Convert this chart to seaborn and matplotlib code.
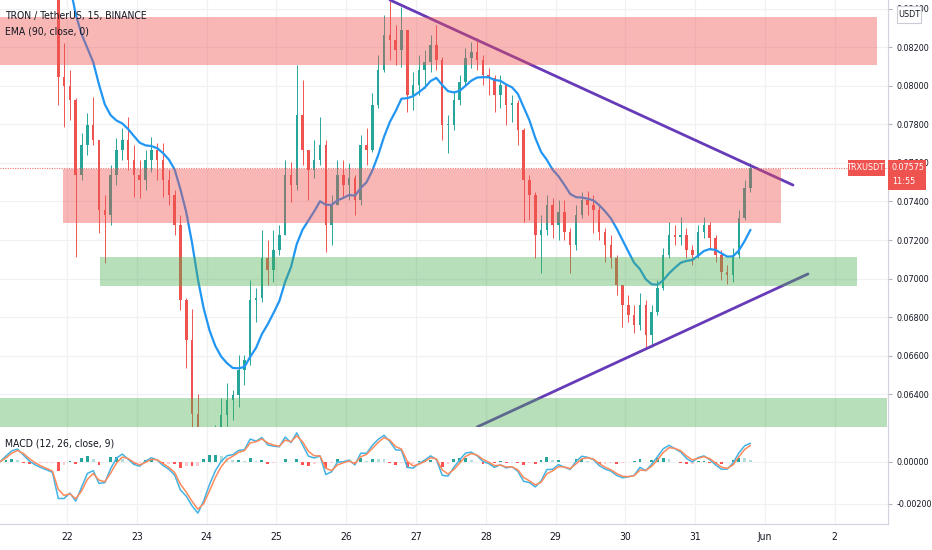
import numpy as np
import pandas as pd
import seaborn as sns
import matplotlib
matplotlib.use("Agg")
import matplotlib.pyplot as plt
from matplotlib.patches import Rectangle

# TRX/USDT, 2-hour candles, x = day of May (21 May 00:00 = 21.0)
first_open = 0.0872
closes = [0.0880, 0.0893, 0.0905, 0.0912, 0.0904, 0.0897, 0.0892, 0.0886, 0.0879, 0.0870,
          0.08046, 0.07999, 0.07926, 0.07537, 0.07693, 0.07797, 0.07719, 0.07356, 0.07330, 0.07537,
          0.07667, 0.07719, 0.07615, 0.07537, 0.07511, 0.07615, 0.07667, 0.07615, 0.07511, 0.07434,
          0.07278, 0.06889, 0.06681, 0.0630, 0.0595, 0.0600, 0.0610, 0.0620, 0.06292, 0.06370,
          0.06396, 0.06526, 0.06578, 0.06889, 0.06899, 0.07107, 0.07045, 0.07148, 0.07226, 0.07537,
          0.07485, 0.07848, 0.07667, 0.07563, 0.07615, 0.07693, 0.07278, 0.07382, 0.07537, 0.07485,
          0.07522, 0.07408, 0.07693, 0.07667, 0.07900, 0.08082, 0.08263, 0.08238, 0.08186, 0.08289,
          0.07952, 0.08004, 0.08082, 0.08123, 0.08212, 0.08134, 0.07797, 0.07797, 0.07926, 0.08020,
          0.08144, 0.08175, 0.08134, 0.08056, 0.08040, 0.07952, 0.08004, 0.07900, 0.07911, 0.07771,
          0.07511, 0.07434, 0.07226, 0.07252, 0.07382, 0.07278, 0.07345, 0.07242, 0.07174, 0.07330,
          0.07408, 0.07382, 0.07356, 0.07242, 0.07174, 0.07107, 0.06967, 0.06863, 0.06811, 0.06759,
          0.06863, 0.06707, 0.06827, 0.06951, 0.07122, 0.07226, 0.07216, 0.07226, 0.07148, 0.07122,
          0.07242, 0.07278, 0.07210, 0.07122, 0.07034, 0.07019, 0.07122, 0.07314, 0.07470, 0.07575]
highs = [0.0885, 0.0897, 0.0910, 0.0918, 0.0916, 0.0908, 0.0900, 0.0895, 0.0890, 0.0882,
         0.0873, 0.08222, 0.08082, 0.07935, 0.07755, 0.07859, 0.07942, 0.07719, 0.07434, 0.07589,
         0.07729, 0.07781, 0.07838, 0.07693, 0.07615, 0.07667, 0.07734, 0.07703, 0.07703, 0.07563,
         0.07460, 0.07330, 0.0690, 0.0684, 0.0640, 0.0612, 0.0615, 0.0624, 0.06381, 0.06458,
         0.06422, 0.06604, 0.06604, 0.06993, 0.06951, 0.07252, 0.07200, 0.07252, 0.07278, 0.07615,
         0.07605, 0.08108, 0.08030, 0.07667, 0.07719, 0.07838, 0.07719, 0.07434, 0.07615, 0.07615,
         0.07600, 0.07537, 0.07745, 0.07781, 0.07963, 0.08160, 0.08367, 0.08440, 0.08315, 0.08409,
         0.08289, 0.08072, 0.08160, 0.08186, 0.08263, 0.08315, 0.0815, 0.07848, 0.07968, 0.08056,
         0.08196, 0.08227, 0.08248, 0.08160, 0.08092, 0.08056, 0.08056, 0.08004, 0.07952, 0.07926,
         0.07781, 0.07537, 0.0745, 0.07330, 0.07434, 0.07418, 0.07408, 0.07408, 0.07262, 0.07382,
         0.07449, 0.07454, 0.07434, 0.07382, 0.07262, 0.07226, 0.07122, 0.06967, 0.06915, 0.06863,
         0.06925, 0.06889, 0.06863, 0.06993, 0.07159, 0.07293, 0.07278, 0.07319, 0.07262, 0.07174,
         0.07278, 0.07319, 0.07293, 0.07226, 0.07148, 0.07070, 0.07159, 0.07356, 0.07511, 0.07600]
lows = [0.0868, 0.0876, 0.0889, 0.0900, 0.0899, 0.0893, 0.0887, 0.0881, 0.0874, 0.0862,
        0.0790, 0.07786, 0.07823, 0.07112, 0.07511, 0.07641, 0.07693, 0.07236, 0.07081, 0.07278,
        0.07485, 0.07615, 0.07563, 0.07423, 0.07418, 0.07460, 0.07553, 0.07511, 0.07423, 0.07382,
        0.07226, 0.06837, 0.06536, 0.0600, 0.0570, 0.0565, 0.0585, 0.0598, 0.0608, 0.0618,
        0.06267, 0.06334, 0.06448, 0.0655, 0.06775, 0.0688, 0.06967, 0.06982, 0.07122, 0.07226,
        0.07397, 0.07460, 0.07589, 0.07408, 0.07522, 0.07589, 0.07138, 0.07174, 0.07382, 0.07418,
        0.07408, 0.07330, 0.07382, 0.07589, 0.07657, 0.07885, 0.08072, 0.08134, 0.08108, 0.08097,
        0.07864, 0.07874, 0.07952, 0.07989, 0.08072, 0.08082, 0.07719, 0.07651, 0.07771, 0.07900,
        0.08004, 0.08092, 0.08082, 0.08004, 0.07952, 0.07864, 0.07885, 0.07797, 0.07812, 0.07693,
        0.07293, 0.07304, 0.07107, 0.07029, 0.07226, 0.07210, 0.07200, 0.07200, 0.07029, 0.07148,
        0.07314, 0.07330, 0.07236, 0.07200, 0.07086, 0.07055, 0.06915, 0.06749, 0.06775, 0.06718,
        0.06733, 0.06645, 0.06645, 0.06811, 0.06941, 0.07107, 0.07174, 0.07174, 0.07107, 0.07070,
        0.07107, 0.07210, 0.07148, 0.07086, 0.06993, 0.06972, 0.06982, 0.07107, 0.07304, 0.07449]

# drawn zones (start day, end day, low, high)
zone_start = [20.9, 21.943, 22.473, 20.9]
zone_end = [33.605, 32.229, 33.318, 33.748]
zone_low = [0.08108, 0.07288, 0.06962, 0.0620]
zone_high = [0.08357, 0.07568, 0.07112, 0.06381]
zone_kind = ["supply", "supply", "demand", "demand"]

# triangle trend lines
upper_t = [26.627, 32.401]
upper_p = [0.08445, 0.07485]
lower_t = [27.874, 32.616]
lower_p = [0.0623, 0.07024]

last_price = 0.07575
price_ticks = [0.064, 0.066, 0.068, 0.070, 0.072, 0.074, 0.076, 0.078, 0.080, 0.082, 0.084]
macd_ticks = [-0.002, 0.0]
day_ticks = [22, 23, 24, 25, 26, 27, 28, 29, 30, 31, 32, 33]
day_labels = ["22", "23", "24", "25", "26", "27", "28", "29", "30", "31", "Jun", "2"]

UP, DOWN = "#26a69a", "#ef5350"
TXT = "#131722"
GRID = "#f0f1f4"

df = pd.DataFrame({"close": closes, "high": highs, "low": lows})
df["open"] = [first_open] + closes[:-1]
df["t"] = 21 + (2 * np.arange(len(df)) + 1) / 24


# 15m EMA periods mapped to 2h bars by matching the EMA lag
def alpha(n):
    return 16 / (15 + n)


df["ema"] = df["close"].ewm(alpha=alpha(90), adjust=False).mean()
fast = df["close"].ewm(alpha=alpha(12), adjust=False).mean()
slow = df["close"].ewm(alpha=alpha(26), adjust=False).mean()
df["macd"] = fast - slow
df["signal"] = df["macd"].ewm(alpha=alpha(9), adjust=False).mean()
df["hist"] = df["macd"] - df["signal"]

sns.set_style("white")
plt.rcParams["font.family"] = ["DejaVu Sans"]
plt.rcParams["font.stretch"] = "condensed"
plt.rcParams["axes.unicode_minus"] = False

W, H = 932, 550
fig = plt.figure(figsize=(W / 100, H / 100), dpi=100)
ax = fig.add_axes([0, 123 / H, 888 / W, 427 / H])
axm = fig.add_axes([0, 26 / H, 888 / W, 97 / H], sharex=ax)

xmin, xmax = 21.04, 21.04 + 888 / 69.8

# candles
up = df["close"] >= df["open"]
cols = np.where(up, UP, DOWN)
ax.vlines(df["t"], df["low"], df["high"], colors=cols, lw=0.7, zorder=2)
body = (df["close"] - df["open"]).abs().clip(lower=0.00003)
ax.bar(df["t"], body, bottom=np.minimum(df["open"], df["close"]),
       width=0.036, color=cols, linewidth=0, zorder=3)

sns.lineplot(data=df, x="t", y="ema", ax=ax, color="#2196f3", lw=1.6, zorder=4)

ax.plot(upper_t, upper_p, color="#673ab7", lw=2, zorder=4.5, solid_capstyle="round")
ax.plot(lower_t, lower_p, color="#673ab7", lw=2, zorder=4.5, solid_capstyle="round")

for s, e, lo, hi, kind in zip(zone_start, zone_end, zone_low, zone_high, zone_kind):
    c = "#ef5350" if kind == "supply" else "#4caf50"
    a = 0.42 if kind == "supply" else 0.40
    ax.add_patch(Rectangle((s, lo), e - s, hi - lo, facecolor=c, alpha=a,
                           edgecolor="none", zorder=5))

ax.axhline(last_price, color="#ef5350", lw=0.8, ls=(0, (1, 1.2)), alpha=0.8, zorder=6)

ax.set_xlim(xmin, xmax)
ax.set_ylim(0.0623, 0.08445)
ax.set_xticks(day_ticks)
ax.set_yticks(price_ticks)
ax.yaxis.tick_right()
ax.yaxis.set_major_formatter(plt.FuncFormatter(lambda v, p: f"{v:.5f}"))
ax.tick_params(axis="y", length=3, pad=3, labelsize=6.5, labelcolor=TXT, color="#b2b5be")
ax.tick_params(axis="x", length=0, labelbottom=False)
ax.grid(True, color=GRID, lw=0.9)
ax.set_xlabel("")
ax.set_ylabel("")
for side in ["top", "left"]:
    ax.spines[side].set_visible(False)
ax.spines["right"].set_color("#d1d4dc")
ax.spines["bottom"].set_color("#e0e3eb")

# MACD panel
hist = df["hist"].values
prev = np.r_[0.0, hist[:-1]]
hcols = np.where(hist >= 0, np.where(hist > prev, "#26a69a", "#b2dfdb"),
                 np.where(hist < prev, "#ff5252", "#ffcdd2"))
axm.bar(df["t"], hist, width=0.04, color=hcols, linewidth=0, zorder=2)
sns.lineplot(data=df, x="t", y="macd", ax=axm, color="#42b3e5", lw=1.1, zorder=3)
sns.lineplot(data=df, x="t", y="signal", ax=axm, color="#ff8a5c", lw=1.1, zorder=3)
axm.set_ylim(-0.00295, 0.00164)
axm.set_yticks(macd_ticks)
axm.yaxis.tick_right()
axm.yaxis.set_major_formatter(plt.FuncFormatter(lambda v, p: f"{v:.5f}"))
axm.tick_params(axis="y", length=3, pad=3, labelsize=6.5, labelcolor=TXT, color="#b2b5be")
axm.set_xticks(day_ticks)
axm.set_xticklabels(day_labels)
axm.tick_params(axis="x", length=0, pad=6, labelsize=7.5, labelcolor=TXT)
axm.grid(True, color=GRID, lw=0.9)
axm.set_xlabel("")
axm.set_ylabel("")
for side in ["top", "left"]:
    axm.spines[side].set_visible(False)
axm.spines["right"].set_color("#d1d4dc")
axm.spines["bottom"].set_color("#d1d4dc")
axm.set_xlim(xmin, xmax)

# legends / labels
fig.text(5 / W, 1 - 16 / H, "TRON / TetherUS, 15, BINANCE", fontsize=7.5, color=TXT, va="center")
fig.text(5 / W, 1 - 32 / H, "EMA (90, close, 0)", fontsize=7.5, color=TXT, va="center")
fig.text(5 / W, 1 - 444 / H, "MACD (12, 26, close, 9)", fontsize=7.5, color=TXT, va="center")


def px_rect(x0, y0, x1, y1, **kw):
    r = Rectangle((x0 / W, 1 - y1 / H), (x1 - x0) / W, (y1 - y0) / H,
                  transform=fig.transFigure, zorder=10, **kw)
    fig.add_artist(r)


px_rect(848, 160, 885, 176, facecolor="#ef5350", edgecolor="none")
fig.text(866.5 / W, 1 - 168 / H, "TRXUSDT", fontsize=6.5, color="white",
         ha="center", va="center", zorder=11)
px_rect(888, 160, 926, 190, facecolor="#ef5350", edgecolor="none")
fig.text(892 / W, 1 - 168 / H, f"{last_price:.5f}", fontsize=6.5, color="white",
         va="center", zorder=11)
fig.text(892 / W, 1 - 182 / H, "11:55", fontsize=6.5, color="white", va="center", zorder=11)

px_rect(897, 6, 921, 23, facecolor="white", edgecolor="#c9ccd4", lw=0.8)
fig.text(909 / W, 1 - 14.5 / H, "USDT", fontsize=6.5, color=TXT, ha="center", va="center", zorder=11)

fig.savefig("out.png", dpi=100)
